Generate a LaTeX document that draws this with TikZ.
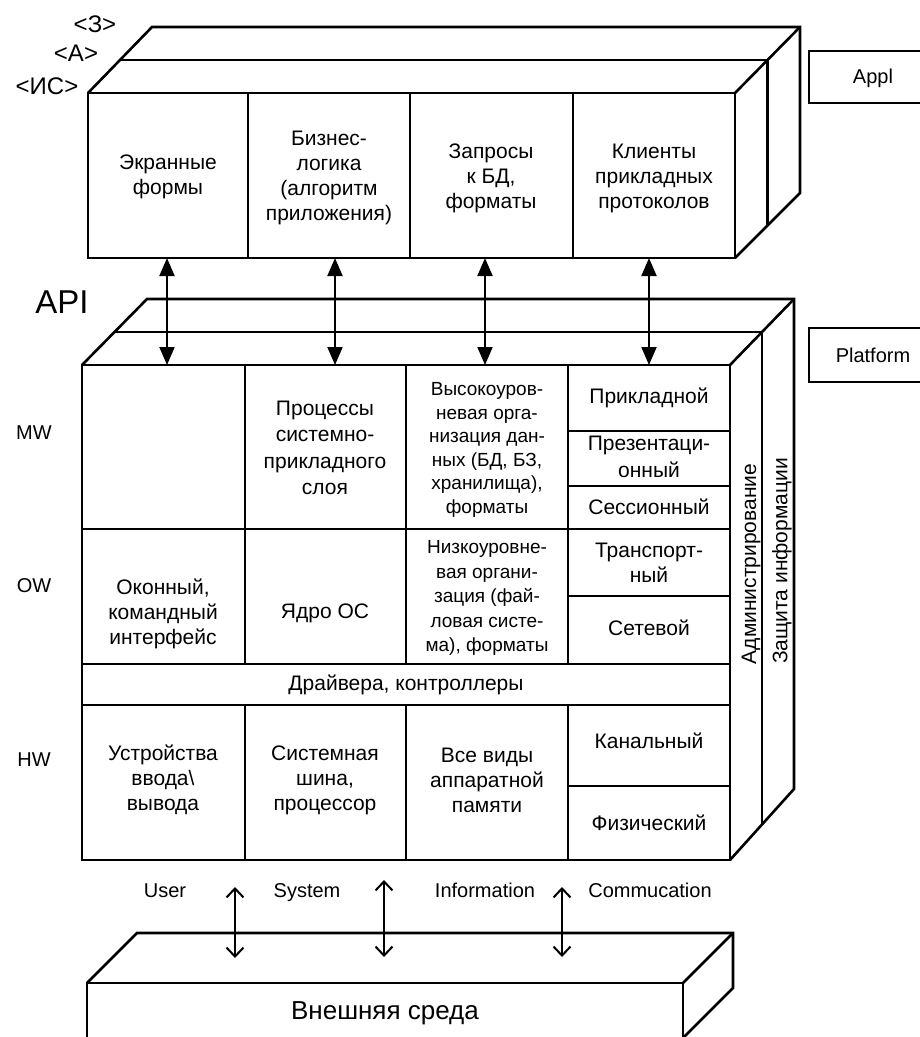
\documentclass[tikz,border=0pt]{standalone}
\usepackage{fontspec}
\setmainfont{Liberation Sans}
\usetikzlibrary{arrows.meta}
\begin{document}
\begin{tikzpicture}[x=1pt,y=-1pt,line width=2.6pt,line join=miter,
  cell/.style={font=\fontsize{21}{25}\selectfont,align=center,inner sep=0pt},
  smallcell/.style={font=\fontsize{19}{23.5}\selectfont,align=center,inner sep=0pt},
  lbl/.style={font=\fontsize{20}{24}\selectfont,inner sep=0pt},
  bottomlbl/.style={font=\fontsize{20}{24}\selectfont,inner sep=0pt,anchor=base},
  apiarrow/.style={line width=2pt,{Triangle[length=18pt,width=15pt]}-{Triangle[length=18pt,width=15pt]}},
  envarrow/.style={line width=2pt,{Straight Barb[length=9pt,width=17pt]}-{Straight Barb[length=9pt,width=17pt]}}]
\useasboundingbox (0,0) rectangle (920,1037);

% ---------- Appl box (top) ----------
\draw (88,93) rectangle (735,258);
\draw (248,93)--(248,258) (410,93)--(410,258) (573,93)--(573,258);
\draw (88,93)--(152,27)--(800,27)--(800,193)--(735,258);
\draw (735,93)--(800,27);
\draw (120,60)--(767.5,60)--(767.5,225);

\node[lbl,font=\fontsize{24}{28}\selectfont] (lz) at (95,24) {<З>};
\node[lbl,font=\fontsize{24}{28}\selectfont] (la) at (76,53) {<А>};
\node[lbl,font=\fontsize{24}{28}\selectfont] (lis) at (47,86) {<ИС>};

\node[cell] (t1) at (168,177) {Экранные\\формы};
\node[cell] (t2) at (329,178) {Бизнес-\\логика\\(алгоритм\\приложения)};
\node[cell] (t3) at (491,178) {Запросы\\к БД,\\форматы};
\node[cell] (t4) at (654,178) {Клиенты\\прикладных\\протоколов};

\draw (921,51)--(809,51)--(809,103)--(921,103);
\node[lbl] (appl) at (873,78) {Appl};

% ---------- Platform box ----------
\draw (82,365) rectangle (730,860);
\draw (82,365)--(147,299)--(794,299)--(794,789)--(730,860);
\draw (730,365)--(794,299);
\draw (114.5,332)--(762,332)--(762,824.5);
% grid
\draw (245,365)--(245,664) (406,365)--(406,664) (568,365)--(568,664);
\draw (245,705)--(245,860) (406,705)--(406,860) (568,705)--(568,860);
\draw (82,529)--(730,529) (82,664)--(730,664) (82,705)--(730,705);
\draw (568,431)--(730,431) (568,486)--(730,486) (568,596)--(730,596) (568,786)--(730,786);

\node[lbl,font=\fontsize{33}{37}\selectfont] (api) at (62,302) {API};
\node[lbl] (mw) at (34,433) {MW};
\node[lbl] (ow) at (34,586) {OW};
\node[lbl] (hw) at (34,760) {HW};

\node[cell,font=\fontsize{21}{26.5}\selectfont] (p2) at (325,448) {Процессы\\системно-\\прикладного\\слоя};
\node[smallcell] (p3) at (487,450) {Высокоуров-\\невая орга-\\низация дан-\\ных (БД, БЗ,\\хранилища),\\форматы};
\node[cell] (n7) at (649,398) {Прикладной};
\node[cell,font=\fontsize{21}{27}\selectfont] (n6) at (649,457) {Презентаци-\\онный};
\node[cell] (n5) at (649,507) {Сессионный};

\node[cell] (o1) at (163,614) {Оконный,\\командный\\интерфейс};
\node[cell] (o2) at (325,613) {Ядро ОС};
\node[smallcell,font=\fontsize{19}{24.5}\selectfont] (o3) at (487,598) {Низкоуровне-\\вая органи-\\зация  (фай-\\ловая систе-\\ма), форматы};
\node[cell] (n4) at (649,563) {Транспорт-\\ный};
\node[cell] (n3) at (649,628) {Сетевой};

\node[cell] (drv) at (406,685) {Драйвера, контроллеры};

\node[cell] (h1) at (163,780) {Устройства\\ввода\textbackslash\\вывода};
\node[cell] (h2) at (325,780) {Системная\\шина,\\процессор};
\node[cell] (h3) at (487,780) {Все виды\\аппаратной\\памяти};
\node[cell] (n2) at (649,741) {Канальный};
\node[cell] (n1) at (649,823) {Физический};

\node[cell,rotate=90] (adm) at (751,564) {Администрирование};
\node[cell,rotate=90] (zi) at (782,561) {Защита информации};

\draw (921,328)--(809,328)--(809,382)--(921,382);
\node[lbl] (plat) at (873,355) {Platform};

% ---------- API arrows ----------
\coordinate (u1) at (167,258); \coordinate (d1) at (167,365);
\coordinate (u2) at (335,258); \coordinate (d2) at (335,365);
\coordinate (u3) at (485,258); \coordinate (d3) at (485,365);
\coordinate (u4) at (649,258); \coordinate (d4) at (649,365);
\draw[apiarrow] (u1)--(d1);
\draw[apiarrow] (u2)--(d2);
\draw[apiarrow] (u3)--(d3);
\draw[apiarrow] (u4)--(d4);

% ---------- bottom labels ----------
\node[bottomlbl] (user) at (165,897) {User};
\node[bottomlbl] (sys) at (307,897) {System};
\node[bottomlbl] (inf) at (485,897) {Information};
\node[bottomlbl] (comm) at (650,897) {Commucation};

% ---------- external environment ----------
\draw (87,1045)--(87,983)--(683,983)--(683,1045);
\draw (87,983)--(137,933)--(733,933)--(733,988)--(683,1038);
\draw (683,983)--(733,933);
\node[lbl,font=\fontsize{26}{30}\selectfont] (env) at (385,1013) {Внешняя среда};

\coordinate (e1t) at (235,887); \coordinate (e1b) at (235,958);
\coordinate (e2t) at (384,880); \coordinate (e2b) at (384,957);
\coordinate (e3t) at (562,887); \coordinate (e3b) at (562,957);
\draw[envarrow] (e1t)--(e1b);
\draw[envarrow] (e2t)--(e2b);
\draw[envarrow] (e3t)--(e3b);
\end{tikzpicture}
\end{document}
